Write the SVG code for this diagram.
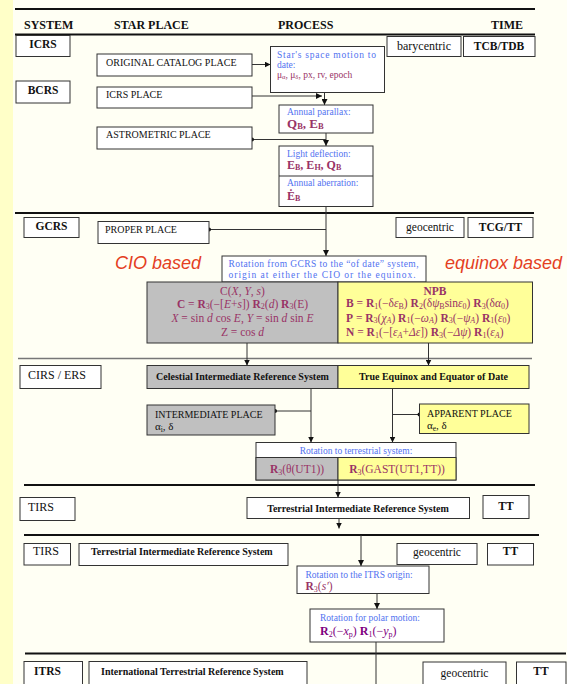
<svg xmlns="http://www.w3.org/2000/svg" width="567" height="684" viewBox="0 0 567 684">
<style>
text{font-family:"Liberation Serif","Times New Roman",serif;fill:#111}
.box{fill:#fff;stroke:#333;stroke-width:1}
.gray{fill:#c0c0c0;stroke:#333;stroke-width:1}
.yel{fill:#ffff99;stroke:#333;stroke-width:1}
.hdr{font-weight:bold;font-size:12px}
.sys{font-weight:bold;font-size:11.5px}
.lbl{font-size:10px}
.blue{fill:#5272f0;font-size:9.5px}
.mar{fill:#993366}
.pur{fill:#800080}
.bs{font-weight:bold;font-size:10px}
.red{font-family:"Liberation Sans",Arial,sans-serif;font-style:italic;font-size:18px;fill:#e4401f}
.conn{stroke:#333;stroke-width:1;fill:none}
.sep{stroke:#111;stroke-width:2}
.c{text-anchor:middle}
</style>
<defs>
<marker id="ah" markerWidth="6" markerHeight="6" refX="6" refY="3" orient="auto" markerUnits="userSpaceOnUse">
<path d="M0,0 L6,3 L0,6 z" fill="#111"/>
</marker>
</defs>
<rect x="0" y="0" width="567" height="684" fill="#fffff4"/>
<rect x="0" y="0" width="13" height="684" fill="#ffffc8"/>

<g id="separators">
<line class="sep" x1="15" y1="9" x2="535" y2="9"/>
<line class="sep" x1="15" y1="34.5" x2="535" y2="34.5"/>
<line class="sep" x1="15" y1="213" x2="534" y2="213"/>
<line x1="18" y1="358.5" x2="532" y2="358.5" stroke="#777" stroke-width="1.5"/>
<line class="sep" x1="24" y1="485" x2="535" y2="485"/>
<line class="sep" x1="24" y1="535" x2="539" y2="535"/>
<line class="sep" x1="25" y1="653.5" x2="566" y2="653.5"/>
</g>

<g id="header">
<text class="hdr" x="24" y="29">SYSTEM</text>
<text class="hdr" x="114" y="29">STAR PLACE</text>
<text class="hdr" x="278" y="29">PROCESS</text>
<text class="hdr" x="523" y="29" text-anchor="end">TIME</text>
</g>

<g id="connectors">
<line class="conn" x1="252" y1="64.5" x2="270.5" y2="64.5" marker-end="url(#ah)"/>
<line class="conn" x1="324.5" y1="92.5" x2="324.5" y2="105" marker-end="url(#ah)"/>
<line class="conn" x1="252" y1="96" x2="322" y2="96" marker-end="url(#ah)"/>
<line class="conn" x1="326" y1="133" x2="326" y2="146" marker-end="url(#ah)"/>
<line class="conn" x1="252" y1="139.5" x2="326" y2="139.5"/>
<circle cx="252" cy="139.5" r="2" fill="#111"/>
<line class="conn" x1="326" y1="206.5" x2="326" y2="256" marker-end="url(#ah)"/>
<line class="conn" x1="209" y1="229.5" x2="326" y2="229.5"/>
<circle cx="209" cy="229.5" r="2" fill="#111"/>
<line class="conn" x1="247" y1="343" x2="247" y2="365.5" marker-end="url(#ah)"/>
<line class="conn" x1="428.5" y1="343" x2="428.5" y2="365.5" marker-end="url(#ah)"/>
<line class="conn" x1="311" y1="388.5" x2="311" y2="442.5" marker-end="url(#ah)"/>
<line class="conn" x1="275" y1="411" x2="311" y2="411"/>
<circle cx="275" cy="411" r="2" fill="#111"/>
<line class="conn" x1="392.5" y1="388.5" x2="392.5" y2="442.5" marker-end="url(#ah)"/>
<line class="conn" x1="392.5" y1="414.5" x2="419.5" y2="414.5"/>
<circle cx="419.5" cy="414.5" r="2" fill="#111"/>
<line class="conn" x1="338" y1="480" x2="338" y2="497.5" marker-end="url(#ah)"/>
<line class="conn" x1="339" y1="518.5" x2="339" y2="528.5" marker-end="url(#ah)"/>
<line class="conn" x1="361" y1="535" x2="361" y2="566" marker-end="url(#ah)"/>
<line class="conn" x1="377" y1="593.5" x2="377" y2="609" marker-end="url(#ah)"/>
<line class="conn" x1="376" y1="642" x2="376" y2="684"/>
</g>

<g id="icrs"><rect class="box" x="16" y="35.5" width="54" height="21"/><text class="sys c" x="43" y="47.5">ICRS</text></g>
<g id="bcrs"><rect class="box" x="16" y="81" width="54" height="22"/><text class="sys c" x="43" y="94">BCRS</text></g>
<g id="original-catalog-place"><rect class="box" x="97" y="54" width="155" height="22"/><text class="lbl" x="106" y="66">ORIGINAL CATALOG PLACE</text></g>
<g id="icrs-place"><rect class="box" x="97" y="87" width="155" height="21"/><text class="lbl" x="106" y="98">ICRS PLACE</text></g>
<g id="astrometric-place"><rect class="box" x="97" y="127" width="155" height="22"/><text class="lbl" x="106" y="138">ASTROMETRIC PLACE</text></g>
<g id="space-motion"><rect class="box" x="270.5" y="46.5" width="114" height="46"/>
<text class="blue" x="277" y="57.5" textLength="99" lengthAdjust="spacing">Star's space motion to</text>
<text class="blue" x="277" y="67.5">date:</text>
<text class="mar" font-size="9.5" x="277" y="77.5">μ<tspan font-size="6.5" dy="1.5">α</tspan><tspan dy="-1.5">, μ</tspan><tspan font-size="6.5" dy="1.5">δ</tspan><tspan dy="-1.5">, px, rv, epoch</tspan></text></g>
<g id="barycentric"><rect class="box" x="387" y="36.5" width="74" height="20"/><text class="c" font-size="12" x="424" y="50">barycentric</text></g>
<g id="tcb-tdb"><rect class="box" x="463.5" y="36.5" width="71.5" height="20"/><text class="sys c" font-size="12" x="499" y="50">TCB/TDB</text></g>
<g id="annual-parallax"><rect class="box" x="279" y="105" width="94" height="28"/>
<text class="blue" x="287" y="115">Annual parallax:</text>
<text class="mar" font-weight="bold" font-size="13" x="287" y="128">Q<tspan font-size="8.5" dy="1">B</tspan><tspan dy="-1">, E</tspan><tspan font-size="8.5" dy="1">B</tspan></text></g>
<g id="light-deflection"><rect class="box" x="279" y="146" width="94" height="60.5"/><line class="conn" x1="279" y1="176" x2="373" y2="176"/>
<text class="blue" x="287" y="157">Light deflection:</text>
<text class="mar" font-weight="bold" font-size="12" x="287" y="169">E<tspan font-size="8" dy="1">B</tspan><tspan dy="-1">, E</tspan><tspan font-size="8" dy="1">H</tspan><tspan dy="-1">, Q</tspan><tspan font-size="8" dy="1">B</tspan></text>
<text class="blue" x="287" y="186">Annual aberration:</text>
<text class="mar" font-weight="bold" font-size="12" x="287" y="200">Ė<tspan font-size="8" dy="1">B</tspan></text></g>

<g id="gcrs"><rect class="box" x="24" y="217.5" width="55" height="20"/><text class="sys c" x="51.5" y="230">GCRS</text></g>
<g id="proper-place"><rect class="box" x="98" y="221.5" width="111" height="22"/><text class="lbl" x="105" y="233">PROPER PLACE</text></g>
<g id="geocentric-1"><rect class="box" x="396" y="217.5" width="68" height="20"/><text class="c" font-size="11.5" x="430" y="231">geocentric</text></g>
<g id="tcg-tt"><rect class="box" x="468" y="217.5" width="65" height="20"/><text class="sys c" font-size="12" x="500.5" y="231">TCG/TT</text></g>
<text class="red" x="115" y="269">CIO based</text>
<text class="red" x="445" y="269">equinox based</text>
<g id="rotation-gcrs"><rect class="box" x="222" y="256" width="204" height="26"/>
<text class="blue" font-size="10" x="228.5" y="267" textLength="190" lengthAdjust="spacing">Rotation from GCRS to the “of date” system,</text>
<text class="blue" font-size="10" x="228.5" y="277.5" textLength="187" lengthAdjust="spacing">origin at either the CIO or the equinox.</text></g>
<g id="cio-matrix"><rect class="gray" x="147" y="282" width="191" height="61"/>
<text class="mar c" font-size="11.5" x="242.5" y="295">C(<tspan font-style="italic">X</tspan>, <tspan font-style="italic">Y</tspan>, <tspan font-style="italic">s</tspan>)</text>
<text class="mar c" font-size="11.5" x="242.5" y="307.5"><tspan font-weight="bold">C</tspan> = <tspan font-weight="bold">R</tspan><tspan font-size="8" dy="1.5">3</tspan><tspan dy="-1.5">(−[</tspan><tspan font-style="italic">E</tspan>+<tspan font-style="italic">s</tspan>]) <tspan font-weight="bold">R</tspan><tspan font-size="8" dy="1.5">2</tspan><tspan dy="-1.5">(</tspan><tspan font-style="italic">d</tspan>) <tspan font-weight="bold">R</tspan><tspan font-size="8" dy="1.5">3</tspan><tspan dy="-1.5">(E)</tspan></text>
<text class="mar c" font-size="11.5" x="242.5" y="322"><tspan font-style="italic">X</tspan> = sin <tspan font-style="italic">d</tspan> cos <tspan font-style="italic">E</tspan>,  <tspan font-style="italic">Y</tspan> = sin <tspan font-style="italic">d</tspan> sin <tspan font-style="italic">E</tspan></text>
<text class="mar c" font-size="11.5" x="242.5" y="336">Z = cos <tspan font-style="italic">d</tspan></text></g>
<g id="npb-matrix"><rect class="yel" x="338" y="282" width="194.5" height="61"/>
<text class="mar c" font-weight="bold" font-size="11.5" x="435" y="295">NPB</text>
<text class="mar" font-size="11.5" x="346" y="307"><tspan font-weight="bold">B</tspan> = <tspan font-weight="bold">R</tspan><tspan font-size="8" dy="1.5">1</tspan><tspan dy="-1.5">(−δ</tspan><tspan font-style="italic">ε</tspan><tspan font-size="8" dy="1.5">B</tspan><tspan dy="-1.5">) </tspan><tspan font-weight="bold">R</tspan><tspan font-size="8" dy="1.5">2</tspan><tspan dy="-1.5">(δ</tspan><tspan font-style="italic">ψ</tspan><tspan font-size="8" dy="1.5">B</tspan><tspan dy="-1.5">sin</tspan><tspan font-style="italic">ε</tspan><tspan font-size="8" dy="1.5">0</tspan><tspan dy="-1.5">) </tspan><tspan font-weight="bold">R</tspan><tspan font-size="8" dy="1.5">3</tspan><tspan dy="-1.5">(δ</tspan><tspan font-style="italic">α</tspan><tspan font-size="8" dy="1.5">0</tspan><tspan dy="-1.5">)</tspan></text>
<text class="mar" font-size="11.5" x="346" y="321.5"><tspan font-weight="bold">P</tspan> = <tspan font-weight="bold">R</tspan><tspan font-size="8" dy="1.5">3</tspan><tspan dy="-1.5">(</tspan><tspan font-style="italic">χ</tspan><tspan font-size="8" dy="1.5" font-style="italic">A</tspan><tspan dy="-1.5">) </tspan><tspan font-weight="bold">R</tspan><tspan font-size="8" dy="1.5">1</tspan><tspan dy="-1.5">(−</tspan><tspan font-style="italic">ω</tspan><tspan font-size="8" dy="1.5" font-style="italic">A</tspan><tspan dy="-1.5">) </tspan><tspan font-weight="bold">R</tspan><tspan font-size="8" dy="1.5">3</tspan><tspan dy="-1.5">(−</tspan><tspan font-style="italic">ψ</tspan><tspan font-size="8" dy="1.5" font-style="italic">A</tspan><tspan dy="-1.5">) </tspan><tspan font-weight="bold">R</tspan><tspan font-size="8" dy="1.5">1</tspan><tspan dy="-1.5">(</tspan><tspan font-style="italic">ε</tspan><tspan font-size="8" dy="1.5">0</tspan><tspan dy="-1.5">)</tspan></text>
<text class="mar" font-size="11.5" x="346" y="336"><tspan font-weight="bold">N</tspan> = <tspan font-weight="bold">R</tspan><tspan font-size="8" dy="1.5">1</tspan><tspan dy="-1.5">(−[</tspan><tspan font-style="italic">ε</tspan><tspan font-size="8" dy="1.5" font-style="italic">A</tspan><tspan dy="-1.5">+</tspan><tspan font-style="italic">Δε</tspan>]) <tspan font-weight="bold">R</tspan><tspan font-size="8" dy="1.5">3</tspan><tspan dy="-1.5">(−</tspan><tspan font-style="italic">Δψ</tspan>) <tspan font-weight="bold">R</tspan><tspan font-size="8" dy="1.5">1</tspan><tspan dy="-1.5">(</tspan><tspan font-style="italic">ε</tspan><tspan font-size="8" dy="1.5" font-style="italic">A</tspan><tspan dy="-1.5">)</tspan></text></g>

<g id="cirs-ers"><rect class="box" x="20" y="365.5" width="81" height="23"/><text font-size="12" x="28" y="379">CIRS / ERS</text></g>
<g id="celestial-intermediate"><rect class="gray" x="147" y="365.5" width="191" height="23"/><text class="bs c" x="242.5" y="379.5">Celestial Intermediate Reference System</text></g>
<g id="true-equinox"><rect class="yel" x="338" y="365.5" width="191" height="23"/><text class="bs c" x="433.5" y="379.5">True Equinox and Equator of Date</text></g>
<g id="intermediate-place"><rect class="gray" x="147" y="405" width="128" height="30"/>
<text class="lbl" x="155" y="417.5">INTERMEDIATE PLACE</text>
<text font-size="11" x="155" y="430">α<tspan font-size="7.5" dy="1.5">i</tspan><tspan dy="-1.5">, δ</tspan></text></g>
<g id="apparent-place"><rect class="yel" x="419.5" y="404" width="109.5" height="29.5"/>
<text class="lbl" x="427" y="416.5">APPARENT PLACE</text>
<text font-size="11" x="427" y="429">α<tspan font-size="7.5" dy="1.5">e</tspan><tspan dy="-1.5">, δ</tspan></text></g>
<g id="rotation-terrestrial"><rect class="box" x="256" y="442.5" width="200" height="37.5"/>
<rect class="gray" x="256" y="457.5" width="82" height="22.5"/>
<rect class="yel" x="338" y="457.5" width="118" height="22.5"/>
<text class="blue c" font-size="10" x="356" y="453.5">Rotation to terrestrial system:</text>
<text class="mar c" font-size="11.5" x="297" y="473"><tspan font-weight="bold">R</tspan><tspan font-size="8" dy="1.5">3</tspan><tspan dy="-1.5">(θ(UT1))</tspan></text>
<text class="mar c" font-size="11.5" x="397" y="473"><tspan font-weight="bold">R</tspan><tspan font-size="8" dy="1.5">3</tspan><tspan dy="-1.5">(GAST(UT1,TT))</tspan></text></g>

<g id="tirs-1"><rect class="box" x="20" y="497.5" width="55" height="23"/><text font-size="12" x="28" y="511">TIRS</text></g>
<g id="terrestrial-intermediate-1"><rect class="box" x="247" y="497.5" width="222.5" height="21"/><text class="bs c" x="358" y="511.5">Terrestrial Intermediate Reference System</text></g>
<g id="tt-1"><rect class="box" x="483" y="495.5" width="46" height="23"/><text class="sys c" font-size="12" x="506" y="509.5">TT</text></g>

<g id="tirs-2"><rect class="box" x="24" y="543.5" width="46.5" height="21.5"/><text font-size="12" x="33" y="555">TIRS</text></g>
<g id="terrestrial-intermediate-2"><rect class="box" x="79" y="543.5" width="209" height="22"/><text class="bs" x="91" y="555">Terrestrial Intermediate Reference System</text></g>
<g id="geocentric-2"><rect class="box" x="397" y="543.5" width="80" height="21"/><text class="c" font-size="11.5" x="437" y="556">geocentric</text></g>
<g id="tt-2"><rect class="box" x="487.5" y="543.5" width="46" height="21.5"/><text class="sys c" font-size="12" x="510.5" y="555">TT</text></g>
<g id="rotation-itrs-origin"><rect class="box" x="297" y="566" width="132" height="27.5"/>
<text class="blue" font-size="9.5" x="305.5" y="577.5">Rotation to the ITRS origin:</text>
<text class="mar" font-size="11.5" x="305.5" y="590"><tspan font-weight="bold">R</tspan><tspan font-size="8" dy="1.5">3</tspan><tspan dy="-1.5">(</tspan><tspan font-style="italic">s′</tspan>)</text></g>
<g id="polar-motion"><rect class="box" x="310" y="609" width="134" height="33"/>
<text class="blue" font-size="10" x="320" y="620.5">Rotation for polar motion:</text>
<text class="pur" font-size="12" x="320" y="635"><tspan font-weight="bold">R</tspan><tspan font-size="8" dy="1.5">2</tspan><tspan dy="-1.5">(−</tspan><tspan font-style="italic">x</tspan><tspan font-size="8" dy="1.5">p</tspan><tspan dy="-1.5">) </tspan><tspan font-weight="bold">R</tspan><tspan font-size="8" dy="1.5">1</tspan><tspan dy="-1.5">(−</tspan><tspan font-style="italic">y</tspan><tspan font-size="8" dy="1.5">p</tspan><tspan dy="-1.5">)</tspan></text></g>

<g id="itrs"><rect class="box" x="24" y="661.5" width="58.5" height="30"/><text class="sys" font-size="12" x="34" y="675">ITRS</text></g>
<g id="international-terrestrial"><rect class="box" x="89" y="661.5" width="218" height="30"/><text class="bs" font-size="10.5" x="101" y="674.5">International Terrestrial Reference System</text></g>
<g id="geocentric-3"><rect class="box" x="423" y="662" width="83" height="30"/><text class="c" font-size="11.5" x="464.5" y="677">geocentric</text></g>
<g id="tt-3"><rect class="box" x="516.5" y="662" width="49.5" height="30"/><text class="sys c" font-size="12" x="541" y="675">TT</text></g>
</svg>
